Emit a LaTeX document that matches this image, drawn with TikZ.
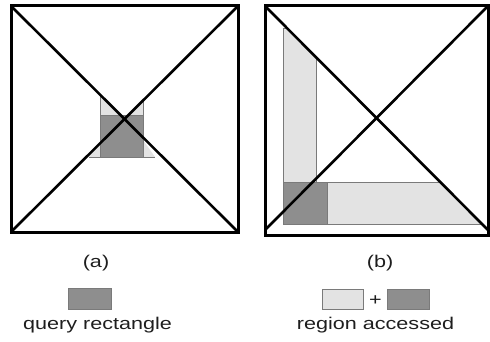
\documentclass[tikz,border=0pt]{standalone}
\usepackage{fontspec}
\setmainfont{Liberation Sans}
\definecolor{darkfill}{HTML}{8E8E8E}
\definecolor{lightfill}{HTML}{E3E3E3}
\definecolor{edgegray}{HTML}{7A7A7A}
\definecolor{inkgray}{HTML}{1E1E1E}
\tikzset{
  frame/.style={line width=3pt, line join=miter},
  diag/.style={line width=2.6pt, line cap=round},
  thinedge/.style={draw=edgegray, line width=0.9pt},
  darkbox/.style={fill=darkfill, thinedge},
  lightbox/.style={fill=lightfill, thinedge},
  caption/.style={font=\fontsize{17}{20}\selectfont, text=inkgray, inner sep=0pt,
                  xscale=1.27, transform shape, anchor=base}
}
\begin{document}
\begin{tikzpicture}[x=1pt,y=-1pt]
\useasboundingbox (0,0) rectangle (490,342);

% ---------- (a) query rectangle in the middle ----------
\coordinate (aTL) at (11,6);
\coordinate (aBR) at (238,232);
\coordinate (aBL) at (11,232);
\coordinate (aTR) at (238,6);
% light triangles around the query
\fill[lightfill] (100,94.6) -- (100,115) -- (120.5,115) -- cycle;
\fill[lightfill] (143,100.6) -- (143,115) -- (128.5,115) -- cycle;
\fill[lightfill] (100,143.4) -- (100,157) -- (89,157) -- cycle;
\fill[lightfill] (143,140) -- (143,157) -- (155,157) -- cycle;
\draw[thinedge] (100,95) -- (100,157);
\draw[thinedge] (143,100) -- (143,157);
\draw[thinedge] (89,157) -- (155,157);
\draw[darkbox] (100,115) rectangle (143,157);
% frame and diagonals
\draw[frame] (aTL) rectangle (aBR);
\draw[diag] (aTL) -- (aBR);
\draw[diag] (aBL) -- (aTR);

% ---------- (b) query rectangle in the lower-left corner ----------
\coordinate (bTL) at (265,6);
\coordinate (bBR) at (488,235);
\coordinate (bD1) at (488,230);
\coordinate (bD2) at (265,230);
\coordinate (bTR) at (488,6);
\begin{scope}
  \clip (bTL) -- (bD1) -- (488,240) -- (260,240) -- (260,0) -- cycle;
  \draw[lightbox] (283,28) -- (316,28) -- (316,182) -- (495,182)
                  -- (495,224) -- (283,224) -- cycle;
\end{scope}
\draw[darkbox] (283,182) rectangle (327,224);
\draw[frame] (bTL) rectangle (bBR);
\draw[diag] (bTL) -- (bD1);
\draw[diag] (bD2) -- (bTR);

% ---------- captions ----------
\node[caption] (capa) at (96,267) {(a)};
\node[caption] (capb) at (380,267) {(b)};

% ---------- legend ----------
\draw[darkbox] (68,288) rectangle (111,309);
\node[caption] (legq) at (97.5,329) {query rectangle};

\draw[lightbox] (322,289) rectangle (363,309);
\node[caption] (plus) at (375.5,305) {+};
\draw[darkbox] (387,289) rectangle (429,309);
\node[caption] (legr) at (375.5,329) {region accessed};
\end{tikzpicture}
\end{document}
